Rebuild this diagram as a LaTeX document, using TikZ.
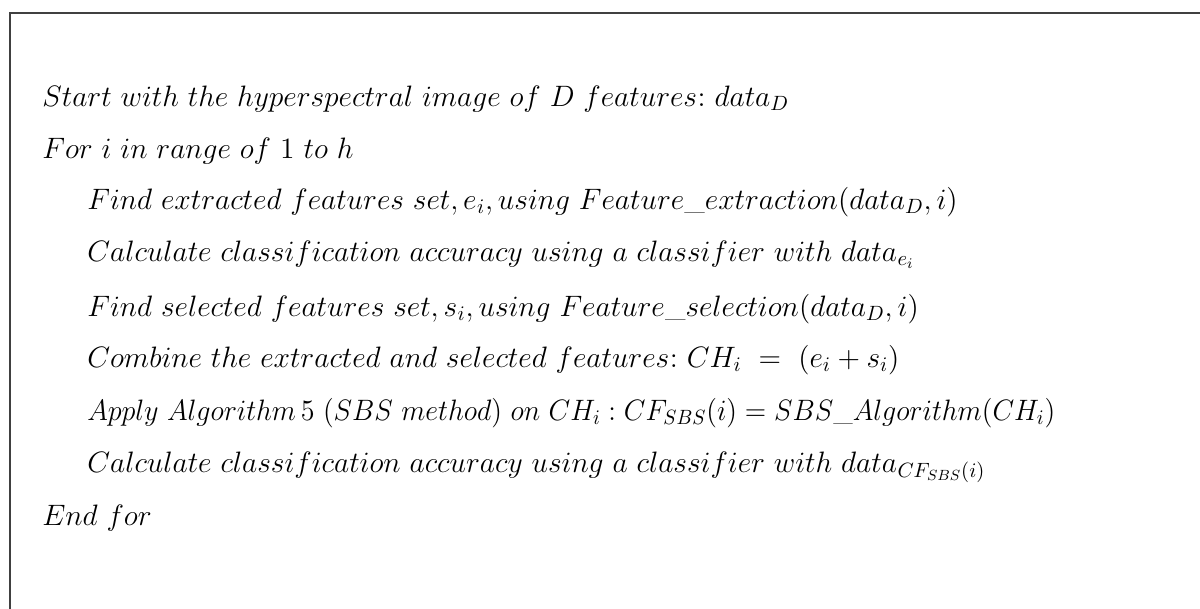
\RequirePackage{fix-cm}
\documentclass[tikz,border=0pt]{standalone}
\usepackage{amsmath}
\usepackage{graphicx}
\usepackage{tikz}

\begin{document}
\begin{tikzpicture}[x=0.2mm,y=-0.2mm,inner sep=0pt,
  algline/.style={anchor=base west,font=\fontsize{16.8}{20}\selectfont},
  frame/.style={draw=black!75,line width=0.4mm}]
\useasboundingbox (0,0) rectangle (1200,608);
% open frame, runs off the right and bottom
\draw [frame] (9.5,700) -- (9.5,13) -- (1300,13);

\node [algline] (start)   at (42,106) {$Start\ with\ the\ hyperspectral\ image\ of\ D\ features{:}\ data_D$};
\node [algline] (forloop) at (42,158) {$For\ i\ in\ range\ of\ 1\ to\ h$};
% loop body, indented
\node [algline] (extract) at (87,209) {$Find\ extracted\ features\ set,e_i,using\ Feature\_extraction(data_D,i)$};
\node [algline] (accext)  at (87,261) {$Calculate\ classification\ accuracy\ using\ a\ classifier\ with\ data_{e_i}$};
\node [algline] (select)  at (87,316) {$Find\ selected\ features\ set,s_i,using\ Feature\_selection(data_D,i)$};
\node [algline] (combine) at (87,367) {$Combine\ the\ extracted\ and\ selected\ features{:}\ CH_i\ =\ (e_i+s_i)$};
% lots of capitals here, squeeze it a little
\node [algline] (apply)   at (87,420) {\scalebox{0.95}[1]{$Apply\ Algorithm\,5\ (SBS\ method)\ on\ CH_i:CF_{SBS}(i)=SBS\_Algorithm(CH_i)$}};
\node [algline] (accsbs)  at (87,472) {$Calculate\ classification\ accuracy\ using\ a\ classifier\ with\ data_{CF_{SBS}(i)}$};
\node [algline] (endfor)  at (42,525) {$End\ for$};
\end{tikzpicture}
\end{document}
